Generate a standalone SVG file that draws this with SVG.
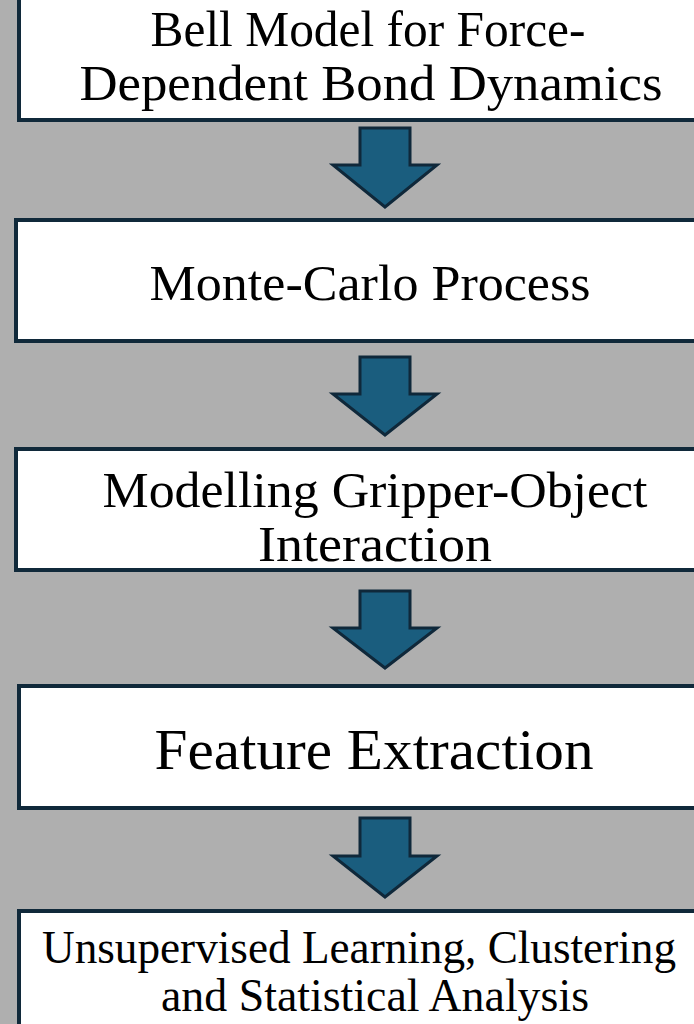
<svg xmlns="http://www.w3.org/2000/svg" width="694" height="1024" viewBox="0 0 694 1024">
<style>
.box{fill:#ffffff;stroke:#10293a;stroke-width:4}
.arr{fill:#1a5d7e;stroke:#0f283a;stroke-width:3;stroke-linejoin:miter}
.t{font-family:"Liberation Serif","Times New Roman",serif;fill:#000;text-anchor:middle}
</style>
<rect x="0" y="0" width="694" height="1024" fill="#afafaf"/>
<g id="node1">
<rect class="box" x="19" y="-10" width="700" height="130"/>
<text class="t" x="368" y="46" font-size="50" textLength="435" lengthAdjust="spacingAndGlyphs">Bell Model for Force-</text>
<text class="t" x="371" y="100" font-size="50" textLength="583" lengthAdjust="spacingAndGlyphs">Dependent Bond Dynamics</text>
</g>
<g id="node2">
<rect class="box" x="16" y="220" width="700" height="121"/>
<text class="t" x="370" y="300" font-size="50" textLength="441" lengthAdjust="spacingAndGlyphs">Monte-Carlo Process</text>
</g>
<g id="node3">
<rect class="box" x="16" y="449" width="700" height="121"/>
<text class="t" x="375" y="507" font-size="50" textLength="545" lengthAdjust="spacingAndGlyphs">Modelling Gripper-Object</text>
<text class="t" x="375" y="561" font-size="50" textLength="234" lengthAdjust="spacingAndGlyphs">Interaction</text>
</g>
<g id="node4">
<rect class="box" x="19" y="686" width="700" height="122"/>
<text class="t" x="374" y="769" font-size="57" textLength="439" lengthAdjust="spacingAndGlyphs">Feature Extraction</text>
</g>
<g id="node5">
<rect class="box" x="19" y="911" width="700" height="130"/>
<text class="t" x="359" y="963" font-size="47" textLength="634" lengthAdjust="spacingAndGlyphs">Unsupervised Learning, Clustering</text>
<text class="t" x="375" y="1011" font-size="47" textLength="428" lengthAdjust="spacingAndGlyphs">and Statistical Analysis</text>
</g>
<g id="connectors">
<path class="arr" d="M360,128 L410,128 L410,165 L437,165 L385,207 L333,165 L360,165 Z"/>
<path class="arr" d="M360,357 L410,357 L410,394 L437,394 L385,435 L333,394 L360,394 Z"/>
<path class="arr" d="M360,591 L410,591 L410,628 L437,628 L385,668 L333,628 L360,628 Z"/>
<path class="arr" d="M360,818 L410,818 L410,856 L437,856 L385,897 L333,856 L360,856 Z"/>
</g>
</svg>
